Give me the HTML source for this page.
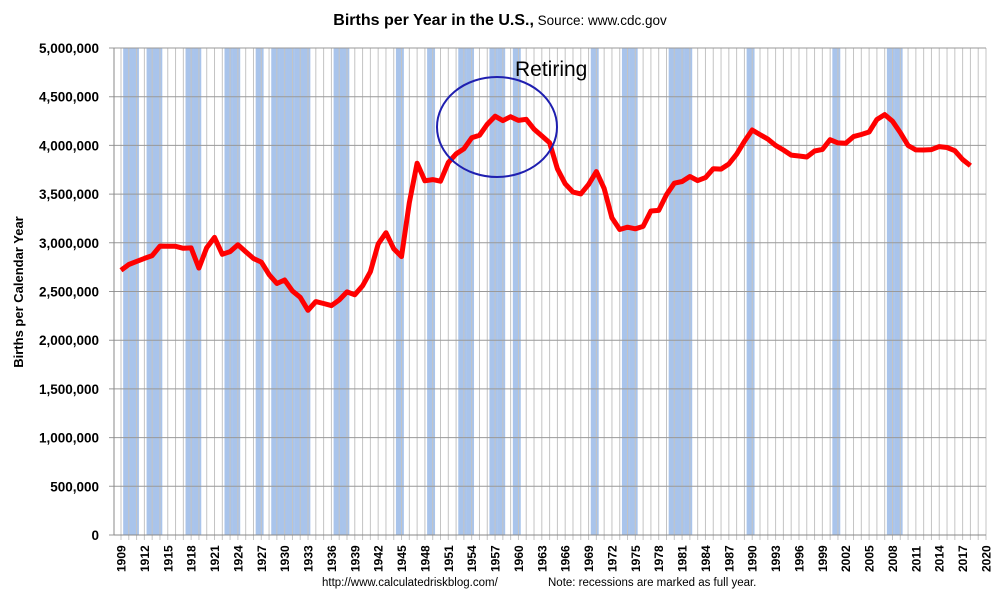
<!DOCTYPE html>
<html><head><meta charset="utf-8"><style>
body{margin:0;background:#fff;}
svg{display:block;font-family:"Liberation Sans",sans-serif;}
</style></head><body>
<svg id="chart" width="1000" height="598" viewBox="0 0 1000 598">
<text x="500" y="25" text-anchor="middle"><tspan font-weight="bold" font-size="16">Births per Year in the U.S.,</tspan><tspan font-size="13.5"> Source: www.cdc.gov</tspan></text>
<g id="bands"></g><g id="grid"></g><g id="axes"></g>
<path id="line" fill="none" stroke="#ff0000" stroke-width="5" stroke-linejoin="round"/>
<ellipse cx="497" cy="127" rx="60" ry="50" fill="none" stroke="#1f1fb0" stroke-width="2"/>
<text x="515" y="76" font-size="21">Retiring</text>
<text transform="translate(23,292) rotate(-90)" text-anchor="middle" font-size="13" font-weight="bold">Births per Calendar Year</text>
<text x="322" y="586" font-size="11.5">http://www.calculatedriskblog.com/</text>
<text x="548" y="586" font-size="11.5">Note: recessions are marked as full year.</text>
</svg>
<script>
const startYear = 1909;
const births = [2718000,2777000,2809000,2840000,2869000,2966000,2965000,2964000,2944000,2948000,2740000,2950000,3055000,2882000,2910000,2979000,2909000,2839000,2802000,2674000,2582000,2618000,2506000,2440000,2307000,2396000,2377000,2355000,2413000,2496000,2466000,2559000,2703000,2989000,3104000,2939000,2858000,3411000,3817000,3637000,3649000,3632000,3823000,3913000,3965000,4078000,4104000,4218000,4300000,4255000,4295000,4257000,4268000,4167000,4098000,4027000,3760000,3606000,3521000,3502000,3600000,3731000,3556000,3258000,3137000,3160000,3144000,3168000,3327000,3333000,3494000,3612000,3629000,3681000,3639000,3669000,3761000,3757000,3809000,3910000,4041000,4158000,4111000,4065000,4000000,3953000,3900000,3891000,3881000,3942000,3959000,4059000,4026000,4022000,4090000,4112000,4138000,4266000,4316000,4248000,4131000,3999000,3954000,3953000,3957000,3988000,3978000,3946000,3855000,3792000];
const recessionYears = [1910,1911,1913,1914,1918,1919,1923,1924,1927,1929,1930,1931,1932,1933,1937,1938,1945,1949,1953,1954,1957,1958,1960,1970,1974,1975,1980,1981,1982,1990,2001,2008,2009];
const yTicks = [0,500000,1000000,1500000,2000000,2500000,3000000,3500000,4000000,4500000,5000000];
const xLabelYears = [];
for (let y = 1909; y <= 2020; y += 3) xLabelYears.push(y);

const NS = "http://www.w3.org/2000/svg";
const X0 = 121, X1 = 986, Y0 = 535, Y1 = 48, PL = 114;
const x = yr => X0 + (yr - 1909) * (X1 - X0) / 111;
const y = v => Y0 - v / 5000000 * (Y0 - Y1);
const unit = (X1 - X0) / 111;
function mk(tag, attrs, parent) { const e = document.createElementNS(NS, tag); for (const k in attrs) e.setAttribute(k, attrs[k]); parent.appendChild(e); return e; }

const bands = document.getElementById('bands');
recessionYears.forEach(yr => {
  const r = mk('rect', {x: x(yr) - 0.72 * unit, y: Y1, width: unit * 1.02, height: Y0 - Y1, fill: '#a9c4eb'}, bands);
  
  
});
const grid = document.getElementById('grid');
for (let yr = 1909; yr <= 2020; yr++) {
  const l = mk('line', {x1: x(yr), x2: x(yr), y1: Y1, y2: Y0 + 5, stroke: '#c4c4c4', 'stroke-width': 1}, grid);
  
  
}
yTicks.forEach(v => {
  const l = mk('line', {x1: PL - 5, x2: X1, y1: y(v), y2: y(v), stroke: '#999', 'stroke-width': 1}, grid);
  
  
  const t = mk('text', {x: 99, y: y(v) + 5, 'text-anchor': 'end', 'font-size': 13.5, 'font-weight': 'bold'}, grid);
  t.textContent = v.toLocaleString('en-US');
  
  
});
const axes = document.getElementById('axes');
const la = mk('line', {x1: PL, x2: PL, y1: Y1, y2: Y0, stroke: '#888'}, axes);


const xa = mk('line', {x1: PL, x2: X1, y1: Y0, y2: Y0, stroke: '#888'}, axes);


xLabelYears.forEach(yr => {
  const t = mk('text', {transform: `translate(${x(yr) + 4.5},${Y0 + 37}) rotate(-90)`, 'font-size': 12, 'font-weight': 'bold'}, axes);
  t.textContent = yr;
  
  
});
document.getElementById('line').setAttribute('d', births.map((v, i) => (i ? 'L' : 'M') + x(startYear + i).toFixed(1) + ',' + y(v).toFixed(1)).join(''));
</script>
</body></html>
